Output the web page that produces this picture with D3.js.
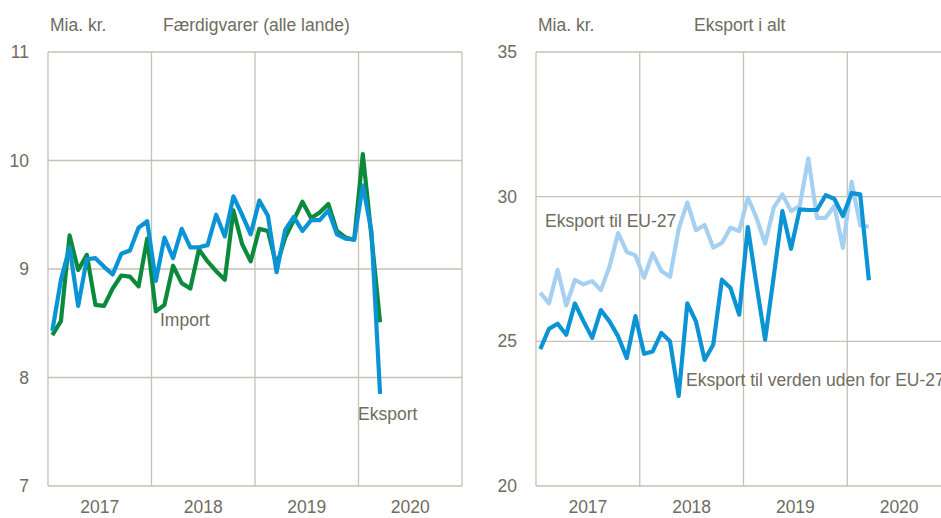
<!DOCTYPE html>
<html>
<head>
<meta charset="utf-8">
<script src="https://cdn.jsdelivr.net/npm/d3@7"></script>
<style>
  body { margin: 0; background: #fff; }
  svg { display: block; font-family: "Liberation Sans", Arial, sans-serif; }
</style>
</head>
<body>
<svg id="chart" width="941" height="518"></svg>
<script>
(() => {

  // monthly values, jan 2017 - mar 2020
  const years = ['2017', '2018', '2019', '2020'];

  const fardigEksport = [8.43, 8.90, 9.20, 8.66, 9.09, 9.10, 9.02, 8.95, 9.14, 9.17, 9.38, 9.44,
    8.89, 9.29, 9.10, 9.37, 9.20, 9.20, 9.22, 9.50, 9.30, 9.67, 9.50, 9.32,
    9.63, 9.49, 8.97, 9.36, 9.48, 9.35, 9.45, 9.45, 9.54, 9.32, 9.28, 9.27,
    9.77, 9.35, 7.85];
  const fardigImport = [8.39, 8.52, 9.31, 8.99, 9.13, 8.67, 8.66, 8.82, 8.94, 8.93, 8.84, 9.28,
    8.61, 8.67, 9.03, 8.87, 8.82, 9.18, 9.07, 8.98, 8.90, 9.54, 9.23, 9.07,
    9.37, 9.35, 9.03, 9.29, 9.45, 9.62, 9.47, 9.52, 9.60, 9.35, 9.29, 9.27,
    10.06, 9.30, 8.51];

  const eksportEU = [26.68, 26.31, 27.47, 26.24, 27.12, 26.97, 27.08, 26.77, 27.58, 28.74, 28.09, 27.97,
    27.20, 28.04, 27.43, 27.23, 28.88, 29.80, 28.84, 29.02, 28.24, 28.40, 28.93, 28.81,
    29.97, 29.27, 28.38, 29.62, 30.08, 29.50, 29.68, 31.32, 29.27, 29.27, 29.68, 28.23,
    30.51, 29.01, 28.96];
  const eksportUdenEU = [24.73, 25.43, 25.61, 25.23, 26.31, 25.69, 25.12, 26.08, 25.69, 25.17, 24.42, 25.87,
    24.57, 24.65, 25.29, 25.00, 23.11, 26.31, 25.69, 24.36, 24.88, 27.13, 26.84, 25.92,
    28.95, 26.96, 25.06, 27.25, 29.50, 28.20, 29.56, 29.54, 29.54, 30.05, 29.93, 29.33,
    30.12, 30.08, 27.11];

  const leftTicks = [7, 8, 9, 10, 11];
  const rightTicks = [20, 25, 30, 35];

  const textColor = '#6f6c60';
  const gridColor = '#c4c1b5';
  const fontSize = 17.5;
  const svg = d3.select('#chart');

  function drawPanel(opt) {
    const g = svg.append('g');
    const x = d3.scaleLinear().domain([0, 48]).range([opt.left, opt.right]);
    const y = d3.scaleLinear().domain(opt.domain).range([486, 52]);

    // grid
    g.selectAll('.hgrid').data(opt.ticks).enter().append('line')
      .attr('x1', opt.left).attr('x2', opt.right)
      .attr('y1', d => y(d)).attr('y2', d => y(d))
      .attr('stroke', gridColor).attr('stroke-width', 1.3);
    g.selectAll('.vgrid').data([0, 12, 24, 36, 48]).enter().append('line')
      .attr('x1', d => x(d)).attr('x2', d => x(d))
      .attr('y1', y(opt.domain[0])).attr('y2', y(opt.domain[1]))
      .attr('stroke', gridColor).attr('stroke-width', 1.3);

    // tick labels
    g.selectAll('.ylab').data(opt.ticks).enter().append('text')
      .attr('x', opt.left - 19).attr('y', d => y(d)).attr('dy', '0.35em')
      .attr('text-anchor', 'end').attr('font-size', fontSize).attr('fill', textColor)
      .text(d => d);
    g.selectAll('.xlab').data(years).enter().append('text')
      .attr('x', (d, i) => x(i * 12 + 6)).attr('y', 513)
      .attr('text-anchor', 'middle').attr('font-size', fontSize).attr('fill', textColor)
      .text(d => d);

    // titles
    g.append('text').attr('x', opt.left + 2).attr('y', 31)
      .attr('font-size', fontSize).attr('fill', textColor).text('Mia. kr.');
    g.append('text').attr('x', opt.titleX).attr('y', 31)
      .attr('font-size', fontSize).attr('fill', textColor).text(opt.title);

    const line = d3.line().x((d, i) => x(i + 0.5)).y(d => y(d));
    opt.series.forEach(s => {
      g.append('path').datum(s.values)
        .attr('d', line).attr('fill', 'none')
        .attr('stroke', s.color).attr('stroke-width', 4.2)
        .attr('stroke-linejoin', 'round');
    });
    opt.labels.forEach(l => {
      g.append('text').attr('x', l.x).attr('y', l.y)
        .attr('font-size', fontSize).attr('fill', textColor).text(l.text);
    });
  }

  drawPanel({
    left: 48, right: 462, domain: [7, 11], ticks: leftTicks,
    title: 'Færdigvarer (alle lande)', titleX: 163,
    series: [
      { values: fardigImport, color: '#0c8a3c' },
      { values: fardigEksport, color: '#0a93d5' }
    ],
    labels: [
      { text: 'Import', x: 160, y: 326 },
      { text: 'Eksport', x: 358, y: 420 }
    ]
  });

  drawPanel({
    left: 536, right: 951, domain: [20, 35], ticks: rightTicks,
    title: 'Eksport i alt', titleX: 694,
    series: [
      { values: eksportEU, color: '#a6d0f2' },
      { values: eksportUdenEU, color: '#0a93d5' }
    ],
    labels: [
      { text: 'Eksport til EU-27', x: 545, y: 227 },
      { text: 'Eksport til verden uden for EU-27', x: 686, y: 386 }
    ]
  });

})();
</script>
</body>
</html>
